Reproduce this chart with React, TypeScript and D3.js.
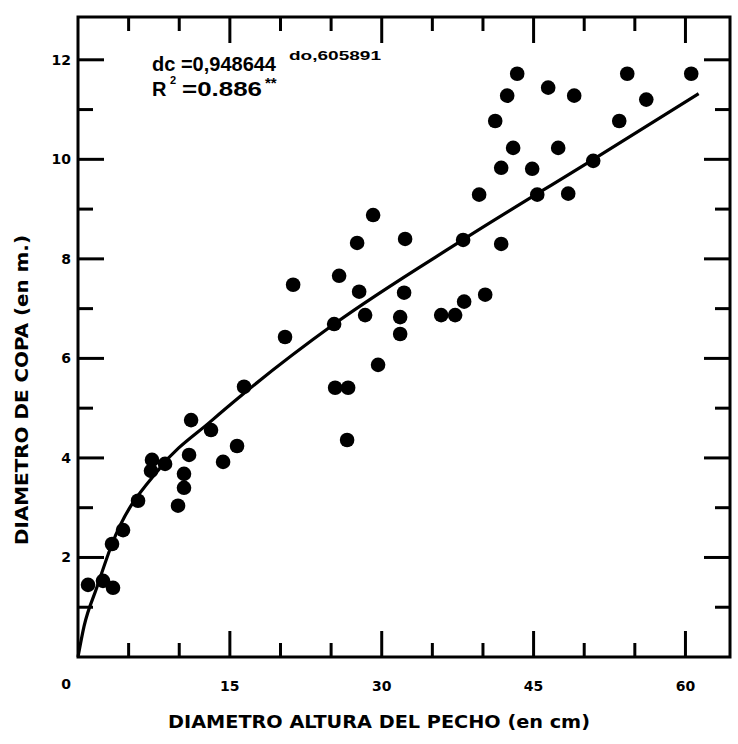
import React from "react";
import * as d3 from "d3";

// Observed points: diámetro a la altura del pecho (cm) vs diámetro de copa (m)
const DAP = [
  0.99, 2.47, 3.46, 3.36, 4.45, 5.93, 7.21, 7.31, 8.6, 9.88, 10.47, 10.47, 10.97,
  11.17, 13.14, 14.33, 15.71, 16.4, 20.45, 21.25, 25.3, 25.4, 26.68, 26.58, 25.79,
  27.57, 27.77, 28.36, 29.15, 29.64, 31.82, 31.82, 32.21, 32.31, 35.87, 37.25,
  38.14, 38.04, 40.22, 39.62, 41.8, 41.8, 41.21, 42.39, 42.98, 43.38, 44.86, 45.36,
  46.44, 47.43, 48.42, 49.01, 50.89, 53.46, 54.25, 56.13, 60.57,
];
const COPA = [
  1.45, 1.53, 1.39, 2.27, 2.55, 3.14, 3.74, 3.96, 3.88, 3.04, 3.4, 3.68, 4.06,
  4.76, 4.56, 3.92, 4.24, 5.43, 6.43, 7.48, 6.69, 5.41, 5.41, 4.36, 7.66,
  8.32, 7.34, 6.87, 8.88, 5.87, 6.83, 6.49, 7.32, 8.4, 6.87, 6.87,
  7.14, 8.38, 7.28, 9.29, 8.3, 9.83, 10.77, 11.28, 10.23, 11.72, 9.81, 9.29,
  11.44, 10.23, 9.31, 11.28, 9.97, 10.77, 11.72, 11.2, 11.72,
];

// Regression curve
const FIT_X = [0, 0.6, 1.85, 3.36, 8.1, 13.2, 16.4, 25.3, 38.0, 50.9, 61.3];
const FIT_Y = [0, 0.62, 1.39, 2.27, 3.8, 4.75, 5.3, 6.69, 8.38, 10.0, 11.32];

const X_LABELS = [15, 30, 45, 60];
const X_TICKS = [5, 10, 15, 20, 25, 30, 35, 40, 45, 50, 55, 60];
const Y_TICKS = [1, 2, 3, 4, 5, 6, 7, 8, 9, 10, 11, 12];
const Y_LABELS = [2, 4, 6, 8, 10, 12];

const X_TITLE = "DIAMETRO ALTURA DEL PECHO (en cm)";
const Y_TITLE = "DIAMETRO DE COPA (en m.)";
const EQ_MAIN = "dc =0,948644";
const EQ_EXP = "do,605891";
const R2_VAL = "=0.886";

export default function App() {
  const left = 78, right = 730, top = 17, bottom = 657;
  const x = d3.scaleLinear().domain([0, 64.4]).range([left, right]);
  const y = d3.scaleLinear().domain([0, 12.86]).range([bottom, top]);

  const fitPts: [number, number][] = FIT_X.map((v, i) => [v, FIT_Y[i]]);
  const line = d3
    .line<[number, number]>()
    .x((d) => x(d[0]))
    .y((d) => y(d[1]))
    .curve(d3.curveMonotoneX);

  const font = "'DejaVu Sans', sans-serif";
  const eqFont = "'Liberation Sans', Arial, sans-serif";
  const sw = 3;

  return (
    <svg
      width={738}
      height={744}
      style={{ position: "absolute", left: 0, top: 0, background: "#fff" }}
      fontFamily={font}
      fontWeight="bold"
    >
      <rect x={0} y={0} width={738} height={744} fill="#fff" />
      {/* frame */}
      <rect
        x={left}
        y={top}
        width={right - left}
        height={bottom - top}
        fill="none"
        stroke="#000"
        strokeWidth={sw}
      />
      {/* bottom & top ticks */}
      {X_TICKS.map((t) => {
        const major = t % 15 === 0;
        const len = major ? 26 : 14;
        return (
          <g key={"xt" + t}>
            <line x1={x(t)} x2={x(t)} y1={bottom} y2={bottom - len} stroke="#000" strokeWidth={sw} />
            <line x1={x(t)} x2={x(t)} y1={top} y2={top + len} stroke="#000" strokeWidth={sw} />
          </g>
        );
      })}
      {/* left & right ticks */}
      {Y_TICKS.map((t) => {
        const major = t % 2 === 0;
        const len = major ? 26 : 15;
        return (
          <g key={"yt" + t}>
            <line x1={left} x2={left + len} y1={y(t)} y2={y(t)} stroke="#000" strokeWidth={sw} />
            <line x1={right} x2={right - len} y1={y(t)} y2={y(t)} stroke="#000" strokeWidth={sw} />
          </g>
        );
      })}
      {/* tick labels */}
      {X_LABELS.map((t) => (
        <text key={"xl" + t} x={x(t)} y={691} textAnchor="middle" fontSize={14}>
          {t}
        </text>
      ))}
      <text x={66} y={689} textAnchor="middle" fontSize={14}>0</text>
      {Y_LABELS.map((t) => (
        <text key={"yl" + t} x={left - 7} y={y(t) + 5} textAnchor="end" fontSize={14}>
          {t}
        </text>
      ))}
      {/* regression curve */}
      <path d={line(fitPts) || ""} fill="none" stroke="#000" strokeWidth={3.2} />
      {/* points */}
      {DAP.map((v, i) => (
        <circle key={"p" + i} cx={x(v)} cy={y(COPA[i])} r={7.3} fill="#000" />
      ))}
      {/* equation */}
      <text x={152} y={71} fontSize={20} fontFamily={eqFont}>
        {EQ_MAIN}
      </text>
      <text
        x={289}
        y={60}
        fontSize={12}
        fontFamily={eqFont}
        textLength={92}
        lengthAdjust="spacingAndGlyphs"
      >
        {EQ_EXP}
      </text>
      <text x={152} y={96} fontSize={20} fontFamily={eqFont}>R</text>
      <text x={170} y={84} fontSize={11} fontFamily={eqFont}>2</text>
      <text
        x={182}
        y={96}
        fontSize={20}
        fontFamily={eqFont}
        textLength={80}
        lengthAdjust="spacingAndGlyphs"
      >
        {R2_VAL}
      </text>
      <text x={265} y={88} fontSize={15} fontFamily={eqFont}>**</text>
      {/* axis titles */}
      <text
        x={379}
        y={728}
        textAnchor="middle"
        fontSize={18}
        textLength={422}
        lengthAdjust="spacingAndGlyphs"
      >
        {X_TITLE}
      </text>
      <text
        transform="translate(28,390) rotate(-90)"
        textAnchor="middle"
        fontSize={17}
        textLength={310}
        lengthAdjust="spacingAndGlyphs"
      >
        {Y_TITLE}
      </text>
    </svg>
  );
}
